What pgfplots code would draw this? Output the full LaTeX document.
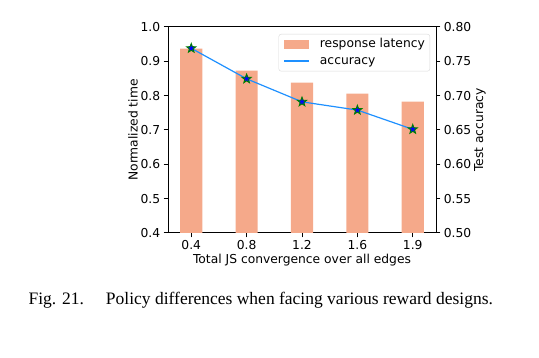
\documentclass[border=0pt]{standalone}
\usepackage{pgfplots}
\pgfplotsset{compat=1.18}
\usepackage{fontspec}
\setmainfont{Liberation Serif}
\newfontfamily\dejavu{DejaVu Sans}
\definecolor{barc}{HTML}{F5A98A}
\definecolor{linec}{HTML}{1E90FF}
\definecolor{mkgreen}{HTML}{008000}
\definecolor{mkblue}{HTML}{0000FF}
\pgfdeclareplotmark{fstar}{%
  \pgfpathmoveto{\pgfpointpolar{90}{\pgfplotmarksize}}%
  \pgfpathlineto{\pgfpointpolar{126}{0.42\pgfplotmarksize}}%
  \pgfpathlineto{\pgfpointpolar{162}{\pgfplotmarksize}}%
  \pgfpathlineto{\pgfpointpolar{198}{0.42\pgfplotmarksize}}%
  \pgfpathlineto{\pgfpointpolar{234}{\pgfplotmarksize}}%
  \pgfpathlineto{\pgfpointpolar{270}{0.42\pgfplotmarksize}}%
  \pgfpathlineto{\pgfpointpolar{306}{\pgfplotmarksize}}%
  \pgfpathlineto{\pgfpointpolar{342}{0.42\pgfplotmarksize}}%
  \pgfpathlineto{\pgfpointpolar{18}{\pgfplotmarksize}}%
  \pgfpathlineto{\pgfpointpolar{54}{0.42\pgfplotmarksize}}%
  \pgfpathclose
  \pgfusepathqfillstroke
}
\pgfplotsset{
  common/.style={
    scale only axis, width=268pt, height=206pt,
    at={(168pt,125pt)}, anchor=south west,
    xmin=-0.42, xmax=4.42,
    font=\dejavu\fontsize{12.3}{14}\selectfont,
    /pgf/number format/assume math mode=true,
    tick align=outside, major tick length=4.3pt,
    every tick/.style={black, line width=1pt},
    axis line style={line width=1pt},
  }
}
\begin{document}
\begin{tikzpicture}[x=1pt,y=1pt]
\path[use as bounding box] (0,0) rectangle (539,358);
\begin{axis}[common,
  ymin=0.4, ymax=1.0,
  xtick={0,1,2,3,4}, xticklabels={0.4,0.8,1.2,1.6,1.9},
  ytick={0.4,0.5,0.6,0.7,0.8,0.9,1.0},
  yticklabel style={/pgf/number format/fixed,/pgf/number format/precision=1,/pgf/number format/fixed zerofill},
  xtick pos=bottom, ytick pos=left,
  xlabel={Total JS convergence over all edges},
  ylabel={Normalized time},
  xlabel style={yshift=3pt},
  ylabel style={yshift=-4pt},
]
\addplot[ybar, bar width=0.4, fill=barc, draw=none] coordinates {(0,0.937) (1,0.873) (2,0.838) (3,0.806) (4,0.783)};
\end{axis}
\begin{axis}[common,
  ymin=0.5, ymax=0.8,
  axis x line=none, axis y line*=right,
  ytick={0.5,0.55,0.6,0.65,0.7,0.75,0.8},
  yticklabel style={/pgf/number format/fixed,/pgf/number format/precision=2,/pgf/number format/fixed zerofill},
  ylabel={Test accuracy},
  ylabel style={yshift=4pt},
  legend style={at={(0.978,0.966)}, anchor=north east, draw=black!15, rounded corners=2.5pt,
    font=\dejavu\fontsize{12.3}{14}\selectfont, row sep=2pt, inner xsep=5pt, inner ysep=3pt,
    nodes={inner sep=0pt, text height=10.5pt, text depth=4pt}},
  /tikz/every odd column/.append style={column sep=10pt},
  legend cell align=left,
]
\addlegendimage{legend image code/.code={\fill[fill=barc, draw=none, sharp corners] (0pt,-4.5pt) rectangle (25pt,4.5pt);}}
\addlegendentry{response latency}
\addlegendimage{legend image code/.code={\draw[draw=linec, line width=1.2pt, sharp corners] (0pt,0pt) -- (25pt,0pt);}}
\addlegendentry{accuracy}
\addplot[forget plot, color=linec, line width=1.2pt, mark=fstar, mark size=4.8pt,
  mark options={fill=mkblue, draw=mkgreen, line width=0.9pt}]
  coordinates {(0,0.769) (1,0.7245) (2,0.691) (3,0.679) (4,0.651)};
\end{axis}
\node[anchor=base west, font=\fontsize{17.5}{20}\selectfont] at (25,53) {Fig. 21.\hspace{22pt}Policy differences when facing various reward designs.};
\end{tikzpicture}
\end{document}
